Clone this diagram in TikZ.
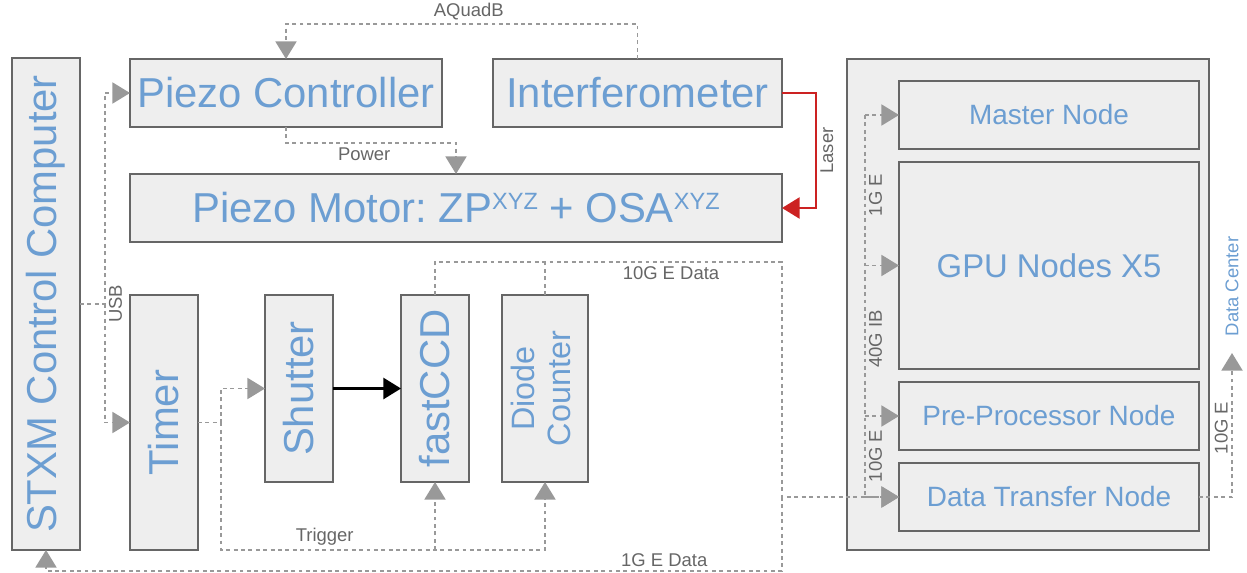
\documentclass[tikz,border=0pt]{standalone}
\usepackage{fontspec}
\setmainfont{Liberation Sans}
\usepackage{graphicx}
\usepackage{tikz}
\usetikzlibrary{calc,arrows.meta,positioning}
\definecolor{boxfill}{HTML}{EEEEEE}
\definecolor{boxline}{HTML}{666666}
\definecolor{textblue}{RGB}{108,158,210}
\definecolor{linkgray}{HTML}{999999}
\definecolor{labelgray}{HTML}{666666}
\definecolor{laserred}{RGB}{204,34,34}
\frenchspacing
\newcommand{\supaxes}{\raisebox{7.5pt}{\fontsize{13.4}{14}\selectfont XYZ}}
\tikzset{
main_box/.style={rectangle, draw=boxline, line width=1.1pt, fill=boxfill, text=textblue, inner sep=0pt, outer sep=0pt, minimum height=1.36cm, font=\fontsize{23.8}{28}\selectfont},
tall_box/.style={main_box, minimum width=1.36cm},
cluster_box/.style={rectangle, draw=boxline, line width=1.1pt, fill=boxfill, inner sep=0pt, outer sep=0pt},
node_box/.style={main_box, minimum width=6cm, font=\fontsize{15.9}{19}\selectfont},
link/.style={draw=linkgray, line width=0.9pt, dash pattern=on 2.2pt off 2pt, -{Triangle[length=10pt,width=12pt]}},
laser/.style={draw=laserred, line width=1.1pt, -{Triangle[length=10pt,width=12pt]}},
signal/.style={draw=black, line width=1.2pt, -{Triangle[length=10pt,width=12pt]}},
link_label/.style={text=labelgray, font=\fontsize{10.5}{12}\selectfont, inner sep=2pt}
}

\begin{document}
\begin{tikzpicture}
    \useasboundingbox (0,0) rectangle (24.94,-11.46);
    \node[tall_box, minimum height=9.84cm, anchor=north west] (stxm) at (0.24,-1.16) {\rotatebox{90}{STXM Control Computer}};
    \node[main_box, minimum width=6.24cm, anchor=north west] (piezo_ctrl) at (2.6,-1.18) {Piezo Controller};
    \node[main_box, minimum width=5.78cm, right=1.02cm of piezo_ctrl] (interfero) {Interferometer};
    \node[main_box, minimum width=13.04cm, below=0.94cm of piezo_ctrl.south west, anchor=north west] (piezo_motor) {Piezo Motor: ZP\supaxes{} + OSA\supaxes};
    \node[tall_box, minimum height=5.1cm, anchor=north west] (timer) at (2.6,-5.9) {\rotatebox{90}{Timer}};
    \node[tall_box, minimum height=3.74cm, right=1.34cm of timer.north east, anchor=north west] (shutter) {\rotatebox{90}{Shutter}};
    \node[tall_box, minimum height=3.74cm, right=1.36cm of shutter] (fast_ccd) {\rotatebox{90}{fastCCD}};
    \node[tall_box, minimum width=1.72cm, minimum height=3.74cm, right=0.66cm of fast_ccd, font=\fontsize{18.4}{20.5}\selectfont] (diode) {\rotatebox{90}{\begin{tabular}{@{}c@{}}Diode\\Counter\end{tabular}}};

    \node[cluster_box, minimum width=7.24cm, minimum height=9.82cm, anchor=north west] (cluster) at (16.94,-1.18) {};
    \node[node_box, anchor=north west] (master) at (17.98,-1.62) {Master Node};
    \node[node_box, minimum height=4.14cm, below=0.26cm of master, font=\fontsize{18.7}{22}\selectfont] (gpu) {GPU Nodes X5};
    \node[node_box, below=0.26cm of gpu] (pre_proc) {Pre-Processor Node};
    \node[node_box, below=0.26cm of pre_proc] (dtn) {Data Transfer Node};

    \draw[link] (interfero.north) -- ++(0,0.7) -| node[link_label, above, pos=0.24] {AQuadB} (piezo_ctrl.north);
    \draw[link] (piezo_ctrl.south) -- ++(0,-0.32) -| node[link_label, below, pos=0.23] {Power} (piezo_motor.north);
    \draw[laser] (interfero.east) -- ++(0.68,0) |- node[link_label, rotate=90, anchor=north, pos=0.25] {Laser} (piezo_motor.east);

    \draw[link] (stxm.east) -- ++(0.5,0) coordinate (usb_split) |- (piezo_ctrl.west);
    \draw[link] (usb_split) |- (timer.west);
    \node[link_label, rotate=90, anchor=north] at (usb_split) {USB};

    \draw[link] (timer.east) -- ++(0.46,0) coordinate (trig_split) |- (shutter.west);
    \draw[link] (trig_split) -- (trig_split |- timer.south) coordinate (trig_low) -| node[link_label, above, pos=0.16] {Trigger} (diode.south);
    \draw[link] (trig_low -| fast_ccd.south) -- (fast_ccd.south);
    \draw[signal] (shutter) -- (fast_ccd);

    \draw[link] (fast_ccd.north) -- ++(0,0.66) coordinate (data_top) -| node[link_label, below, pos=0.34] {10G E Data} (piezo_motor.east |- dtn.west) coordinate (data_drop) -- (dtn.west);
    \draw[link, -] (diode.north) -- (diode.north |- data_top);
    \coordinate (low_line) at ($(stxm.south)+(0,-0.42)$);
    \draw[link] (data_drop) -- (data_drop |- low_line) -| node[link_label, above, pos=0.08] {1G E Data} (stxm.south);

    \coordinate (bus) at ($(master.west)+(-0.68,0)$);
    \draw[link, -] (bus) -- (bus |- dtn.west);
    \foreach \n in {master,gpu,pre_proc,dtn}
        \draw[link] (bus |- \n.west) -- (\n.west);
    \node[link_label, rotate=90, anchor=north] at ($(bus)+(0,-1.6)$) {1G E};
    \node[link_label, rotate=90, anchor=north] at ($(bus)+(0,-4.48)$) {40G IB};
    \node[link_label, rotate=90, anchor=north] at ($(bus)+(0,-6.82)$) {10G E};

    \coordinate (dc_tip) at ($(dtn.east)+(0.66,2.88)$);
    \draw[link] (dtn.east) -| node[link_label, rotate=90, anchor=south, pos=0.74] {10G E} (dc_tip);
    \node[link_label, text=textblue, rotate=90, anchor=west] at ($(dc_tip)+(0,0.26)$) {Data Center};
\end{tikzpicture}
\end{document}
